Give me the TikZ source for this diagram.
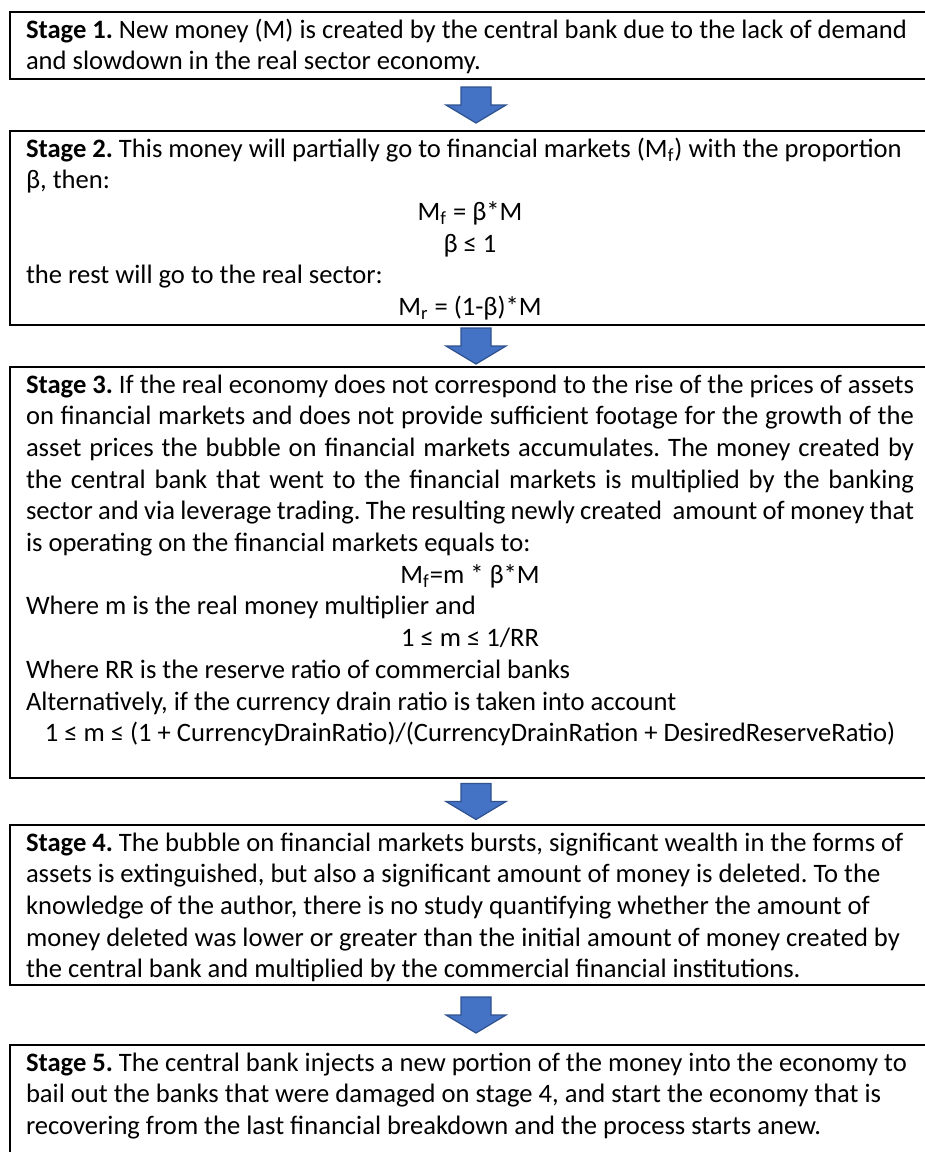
\documentclass[tikz,border=0pt]{standalone}
\usepackage{fontspec}
\setmainfont{Carlito}
\usetikzlibrary{calc}
\frenchspacing
\definecolor{arrowfill}{HTML}{4472C4}
\definecolor{arrowline}{HTML}{2F528F}
\newcommand\Lj[1]{\makebox[\linewidth][s]{#1}\\}
\newcommand\Ll[1]{\mbox{#1}\\}
\newcommand\Lc[1]{\makebox[\linewidth]{#1}\\}
\newcommand\stagetext[2]{\parbox[t][#1][t]{444pt}{\raggedright\frenchspacing\rule{0pt}{13pt}#2}}
\newcommand\blockarrow[2]{%
  \filldraw[blockarrow] let \p1=($(#1.south)!0.5!(#2.north)$), \p2=(238pt,0) in
    (\x2-7.5pt,\y1+9pt) -- (\x2+7.5pt,\y1+9pt) -- (\x2+7.5pt,\y1) -- (\x2+15pt,\y1)
    -- (\x2,\y1-9pt) -- (\x2-15pt,\y1) -- (\x2-7.5pt,\y1) -- cycle;}
\tikzset{
  stagebox/.style={draw=black, line width=1pt, anchor=north west, inner xsep=8pt,
    inner ysep=0pt, font=\fontsize{13.3}{15.85}\selectfont},
  blockarrow/.style={fill=arrowfill, draw=arrowline, line width=0.6pt, line join=miter}
}
\begin{document}
\begin{tikzpicture}
\useasboundingbox (0,0) rectangle (462.5pt,-576pt);
\fill[white] (0,0) rectangle (462.5pt,-576pt);
\clip (0,0) rectangle (462.5pt,-576pt);

\node[stagebox] (s1) at (4.5pt,-5.5pt) {\stagetext{33.5pt}{%
\Ll{\textbf{Stage 1.} New money (M) is created by the central bank due to the lack of demand}
and slowdown in the real sector economy.}};

\node[stagebox] (s2) at (4.5pt,-65pt) {\stagetext{97pt}{%
\Ll{\textbf{Stage 2.} This money will partially go to financial markets (M\textsubscript{f}) with the proportion}
\Ll{β, then:}
\Lc{M\textsubscript{f} = β*M}
\Lc{β ≤ 1}
\Ll{the rest will go to the real sector:}
\makebox[\linewidth]{M\textsubscript{r} = (1-β)*M}}};

\node[stagebox] (s3) at (4.5pt,-183pt) {\stagetext{205.5pt}{%
\Lj{\textbf{Stage 3.} If the real economy does not correspond to the rise of the prices of assets}
\Lj{on financial markets and does not provide sufficient footage for the growth of the}
\Lj{asset prices the bubble on financial markets accumulates. The money created by}
\Lj{the central bank that went to the financial markets is multiplied by the banking}
\Lj{sector and via leverage trading. The resulting newly created\ \ amount of money that}
\Ll{is operating on the financial markets equals to:}
\Lc{M\textsubscript{f}=m * β*M}
\Ll{Where m is the real money multiplier and}
\Lc{1 ≤ m ≤ 1/RR}
\Ll{Where RR is the reserve ratio of commercial banks}
\Ll{Alternatively, if the currency drain ratio is taken into account}
\makebox[\linewidth]{1 ≤ m ≤ (1 + CurrencyDrainRatio)/(CurrencyDrainRation + DesiredReserveRatio)}}};

\node[stagebox] (s4) at (4.5pt,-412pt) {\stagetext{80pt}{%
\Ll{\textbf{Stage 4.} The bubble on financial markets bursts, significant wealth in the forms of}
\Ll{assets is extinguished, but also a significant amount of money is deleted. To the}
\Ll{knowledge of the author, there is no study quantifying whether the amount of}
\Ll{money deleted was lower or greater than the initial amount of money created by}
the central bank and multiplied by the commercial financial institutions.}};

\node[stagebox] (s5) at (4.5pt,-522pt) {\stagetext{70pt}{%
\Ll{\textbf{Stage 5.} The central bank injects a new portion of the money into the economy to}
\Ll{bail out the banks that were damaged on stage 4, and start the economy that is}
recovering from the last financial breakdown and the process starts anew.}};

\blockarrow{s1}{s2}
\blockarrow{s2}{s3}
\blockarrow{s3}{s4}
\blockarrow{s4}{s5}
\end{tikzpicture}
\end{document}
